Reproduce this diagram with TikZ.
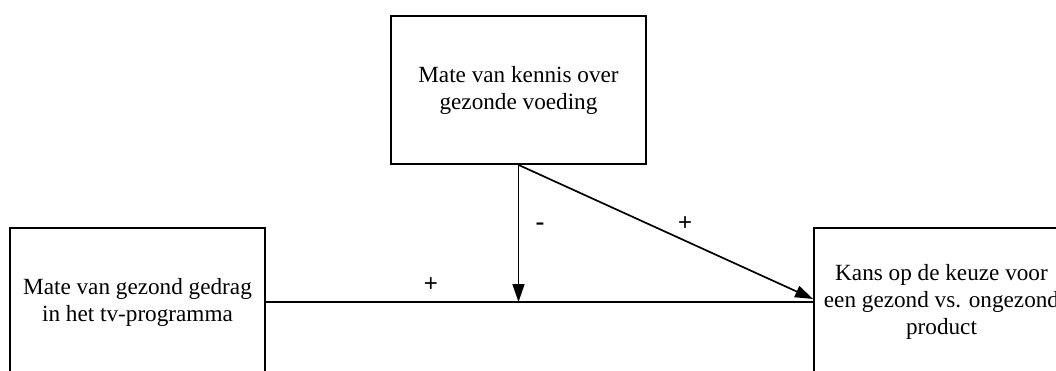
\documentclass[tikz,border=0pt]{standalone}
\usepackage{fontspec}
\setmainfont{Liberation Serif}
\newfontfamily\labelfont{Liberation Sans}
\usetikzlibrary{arrows.meta,calc}
\begin{document}
\begin{tikzpicture}[x=1pt,y=-1pt,
  varbox/.style={draw=black,line width=1.8pt,minimum width=255pt,minimum height=148pt,
    inner sep=0pt,align=center,font=\fontsize{23.2}{27}\selectfont},
  link/.style={line width=1.7pt,draw=black},
  arr/.style={link,-{Triangle[length=18pt,width=12pt]}},
  sign/.style={font=\labelfont\fontsize{24}{28}\selectfont,inner sep=0pt},
  dashsign/.style={font=\labelfont\fontsize{28}{32}\selectfont,inner sep=0pt}]
\useasboundingbox (0,0) rectangle (1056,371);
\clip (0,0) rectangle (1056,371);
\node[varbox] (K) at (518.5,90) {Mate van kennis over\\gezonde voeding};
\node[varbox] (G) at (137.5,302) {Mate van gezond gedrag\\in het tv-programma};
\node[varbox] (C) at (941.5,302) {Kans op de keuze voor\\een gezond vs. ongezond\\product};
\coordinate (M) at (K.south |- G.east);
\coordinate (T) at ($(C.west)+(0,-3)$);
\draw[link] (G.east) -- (C.west);
\draw[arr] (K.south) -- (M);
\draw[arr] (K.south) -- (T);
\node[sign] (p1) at (431,285) {+};
\node[dashsign] (m1) at (540,227) {-};
\node[sign] (p2) at (685,224) {+};
\end{tikzpicture}
\end{document}
